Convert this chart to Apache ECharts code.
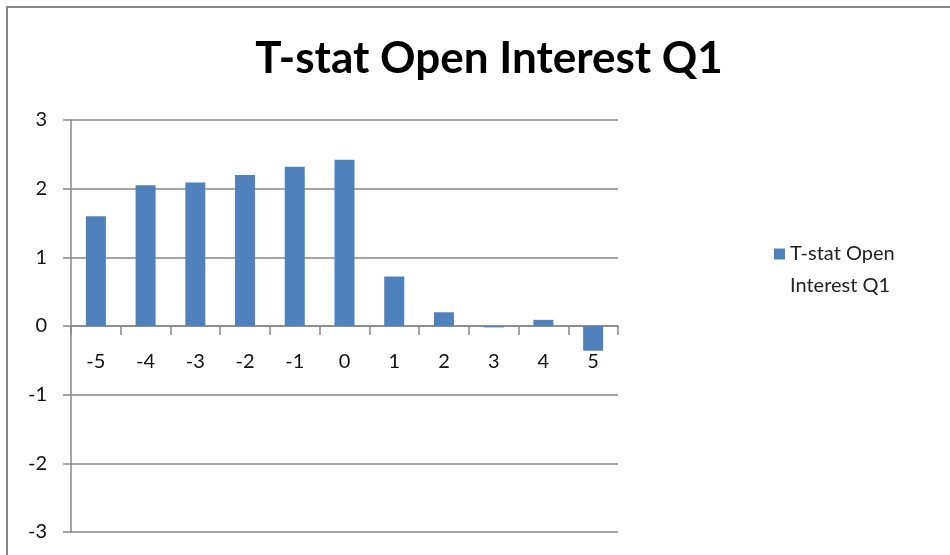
<!DOCTYPE html>
<html>
<head>
<meta charset="utf-8">
<script src="https://cdn.jsdelivr.net/npm/echarts@6/dist/echarts.min.js"></script>
<style>
  html, body { margin: 0; padding: 0; background: #fff; }
  #frame {
    position: absolute; left: 0; top: 0; width: 950px; height: 555px;
  }
  #edge {
    position: absolute; left: 6px; top: 6px; width: 944px; height: 549px;
    border-left: 2px solid #878787; border-top: 2px solid #878787;
    box-sizing: border-box; pointer-events: none;
  }
  #chart { position: absolute; left: 0; top: 0; width: 950px; height: 555px; }
</style>
</head>
<body>
<div id="frame">
  <div id="chart"></div>
  <div id="edge"></div>
</div>
<script>
// 数据
const categories = ["-5", "-4", "-3", "-2", "-1", "0", "1", "2", "3", "4", "5"];
const tstatValues = [1.6, 2.05, 2.09, 2.2, 2.32, 2.42, 0.72, 0.2, -0.02, 0.09, -0.36];
const seriesName = "T-stat Open\nInterest Q1";
const yTicks = { min: -3, max: 3, interval: 1 };

const font = "Lato, 'Open Sans', sans-serif";
const grey = "#878787";

// 网格尺寸
const gridTop = 120, gridBottom = 23, chartH = 555;
const plotH = chartH - gridTop - gridBottom;
// x 轴放在 0 处（标签一起移动）
const zeroOffset = -plotH * (0 - yTicks.min) / (yTicks.max - yTicks.min);

let myChart = echarts.init(document.getElementById("chart"));
let option = {
  animation: false,
  title: {
    text: "T-stat Open Interest Q1",
    left: 484,
    textAlign: "center",
    top: 32,
    textStyle: { fontFamily: font, fontWeight: "bold", fontSize: 44, color: "#000" }
  },
  legend: {
    data: [seriesName],
    left: 769,
    top: 201,
    orient: "vertical",
    icon: "rect",
    itemWidth: 11,
    itemHeight: 11,
    itemGap: 8,
    // 空的第一行，让色块和第一行文字对齐
    formatter: name => "\n" + name,
    textStyle: { fontFamily: font, fontSize: 20, color: "#222", lineHeight: 32 }
  },
  grid: { left: 71, right: 332, top: gridTop, bottom: gridBottom, outerBoundsMode: "none", containLabel: false },
  xAxis: {
    type: "category",
    data: categories,
    offset: zeroOffset,
    axisLine: { onZero: false, lineStyle: { color: grey, width: 1.5 } },
    axisTick: { show: true, length: 9, lineStyle: { color: grey, width: 1.5 } },
    axisLabel: { margin: 26, fontFamily: font, fontSize: 20, color: "#111" }
  },
  yAxis: {
    type: "value",
    min: yTicks.min,
    max: yTicks.max,
    interval: yTicks.interval,
    axisLine: { show: true, lineStyle: { color: grey, width: 1.5 } },
    axisTick: { show: true, inside: false, length: 8, lineStyle: { color: grey, width: 1.5 } },
    splitLine: { lineStyle: { color: grey, width: 1.5 } },
    axisLabel: { margin: 24, fontFamily: font, fontSize: 20, color: "#111" }
  },
  series: [
    {
      name: seriesName,
      type: "bar",
      data: tstatValues,
      barWidth: 20,
      itemStyle: { color: "#4F81BD" }
    }
  ]
};
myChart.setOption(option);
</script>
</body>
</html>
